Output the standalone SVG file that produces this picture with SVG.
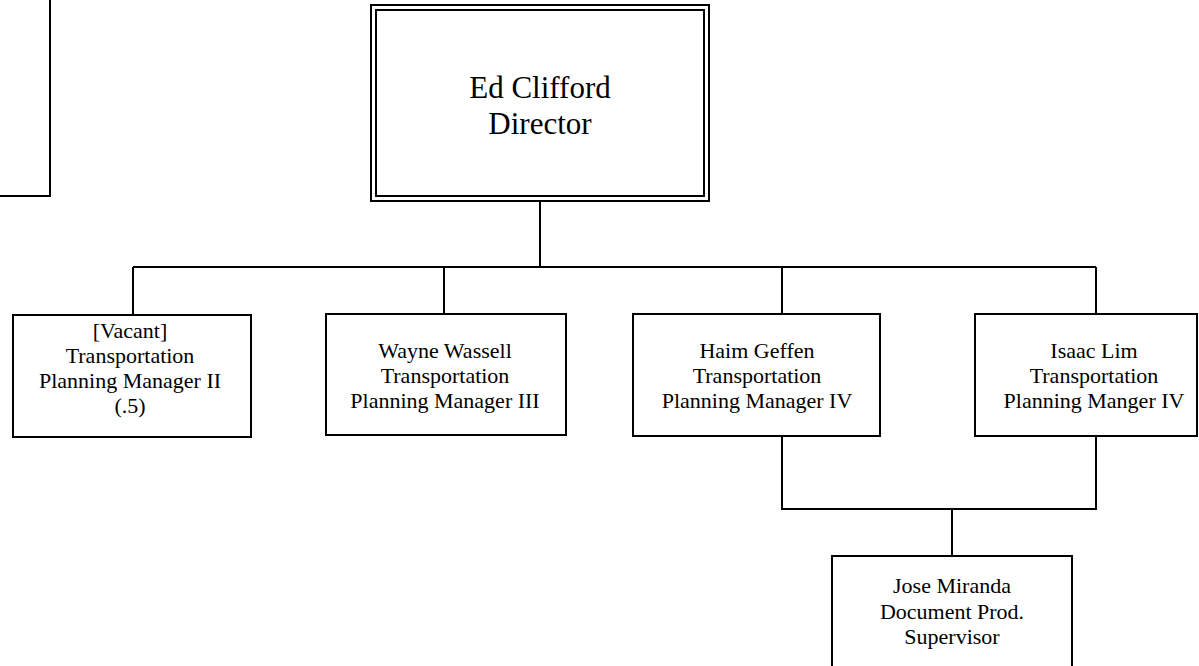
<svg xmlns="http://www.w3.org/2000/svg" width="1199" height="666" viewBox="0 0 1199 666">
<style>
.box{fill:#fff;stroke:#000;stroke-width:2}
.ln{fill:none;stroke:#000;stroke-width:2}
.t{font-family:"Liberation Serif","Times New Roman",serif;font-size:22px;fill:#000;text-anchor:middle}
.big{font-size:31px}
</style>
<rect width="1199" height="666" fill="#fff"/>
<g id="connectors" class="ln">
<path d="M50,0 V196 H0"/>
<path d="M540,200 V267"/>
<path d="M133,267 H1096"/>
<path d="M133,267 V315 M444,267 V314 M782,267 V314 M1096,267 V314"/>
<path d="M782,436 V509 H1096 V436"/>
<path d="M952,509 V556"/>
</g>
<g id="director">
<rect class="box" x="371" y="5" width="338" height="196"/>
<rect class="box" x="376" y="10" width="328" height="186"/>
<text class="t big" x="540" y="98">Ed Clifford</text>
<text class="t big" x="540" y="134">Director</text>
</g>
<g id="vacant">
<rect class="box" x="13" y="315" width="238" height="122"/>
<text class="t" x="130" y="338">[Vacant]</text>
<text class="t" x="130" y="363">Transportation</text>
<text class="t" x="130" y="388">Planning Manager II</text>
<text class="t" x="130" y="413">(.5)</text>
</g>
<g id="wayne">
<rect class="box" x="326" y="314" width="240" height="121"/>
<text class="t" x="445" y="358">Wayne Wassell</text>
<text class="t" x="445" y="383">Transportation</text>
<text class="t" x="445" y="408">Planning Manager III</text>
</g>
<g id="haim">
<rect class="box" x="633" y="314" width="247" height="122"/>
<text class="t" x="757" y="358">Haim Geffen</text>
<text class="t" x="757" y="383">Transportation</text>
<text class="t" x="757" y="408">Planning Manager IV</text>
</g>
<g id="isaac">
<rect class="box" x="975" y="314" width="222" height="122"/>
<text class="t" x="1094" y="358">Isaac Lim</text>
<text class="t" x="1094" y="383">Transportation</text>
<text class="t" x="1094" y="408">Planning Manger IV</text>
</g>
<g id="jose">
<rect class="box" x="832" y="556" width="240" height="130"/>
<text class="t" x="952" y="593">Jose Miranda</text>
<text class="t" x="952" y="619">Document Prod.</text>
<text class="t" x="952" y="644">Supervisor</text>
</g>
</svg>
